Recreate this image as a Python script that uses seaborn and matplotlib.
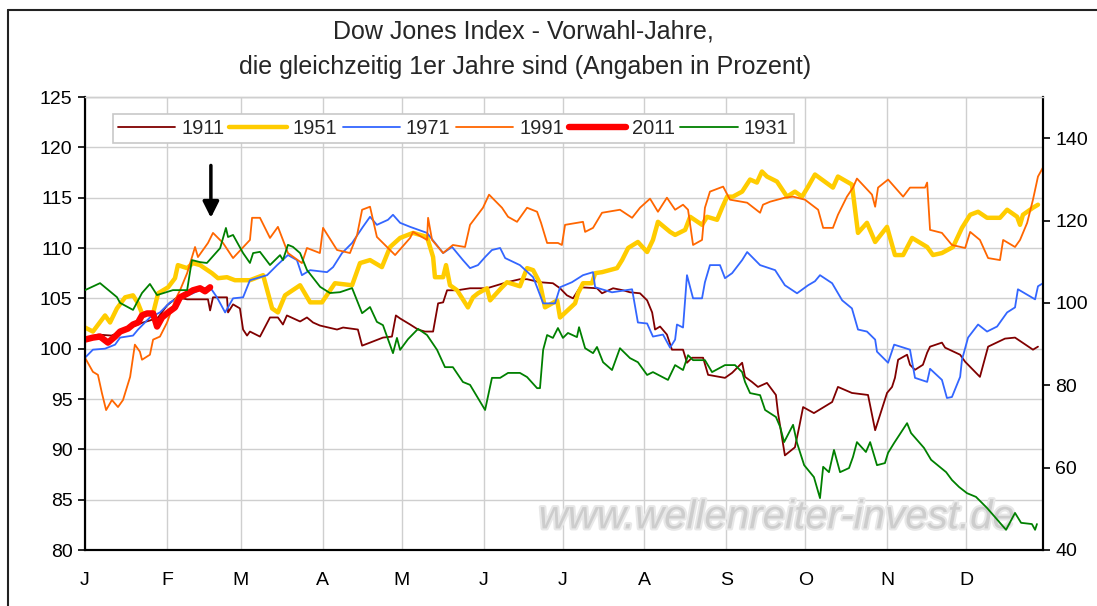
import matplotlib
matplotlib.use("Agg")
import matplotlib.pyplot as plt
from matplotlib.lines import Line2D
import matplotlib.patheffects as pe
import seaborn as sns
import pandas as pd

# ---------------- data ----------------
month_starts = [0, 31, 59, 90, 120, 151, 181, 212, 243, 273, 304, 334]
month_labels = ["J", "F", "M", "A", "M", "J", "J", "A", "S", "O", "N", "D"]

days_1911 = [0, 5, 10, 15, 19, 22.0, 24.6, 27.7, 31.1, 34.9, 38.7, 46.6, 47.4, 48.5, 53.8, 54.2, 56.1, 58.7,
             59.9, 61.4, 62.5, 66.3, 70.1, 73.1, 75.0, 76.5, 81.5, 84.1, 86.4, 89.0, 95.5, 97.8, 103.4, 105.0,
             108.0, 112.9, 116.3, 117.8, 119.4, 123.2, 126.2, 128.8, 131.9, 133.8, 135.7, 137.2, 141.0, 145.9,
             152.3, 159.9, 164.8, 167.5, 172.4, 177.3, 180.0, 182.6, 184.9, 187.6, 194.0, 195.9, 200.1, 203.9,
             206.5, 210.3, 213.0, 214.9, 216.0, 217.9, 220.5, 222.4, 224.3, 226.6, 228.1, 230.0, 234.2, 236.1,
             242.5, 245.2, 249.0, 250.1, 252.7, 255.0, 258.4, 261.8, 262.6, 265.2, 269.0, 270.6, 272.1, 276.2,
             283.1, 285.3, 290.6, 296.7, 299.4, 303.9, 305.8, 306.9, 308.1, 311.5, 312.6, 314.5, 317.5, 319.1,
             320.2, 324.7, 325.9, 331.6, 333.5, 339.1, 342.2, 348.6, 352.4, 359.2, 361.1]
vals_1911 = [101.0, 101.4, 101.3, 101.8, 102.3, 102.6, 102.8, 103.1, 104.3, 105.1, 104.9, 104.9, 103.8, 105.1,
             105.1, 103.6, 104.4, 104.0, 101.9, 101.3, 101.7, 101.2, 103.1, 103.1, 102.4, 103.3, 102.7, 103.1,
             102.6, 102.3, 101.9, 102.1, 101.9, 100.3, 100.6, 101.1, 101.2, 103.3, 103.0, 102.4, 101.9, 101.7,
             101.7, 104.5, 104.6, 105.8, 105.8, 106.0, 106.0, 106.6, 106.9, 106.9, 106.6, 106.5, 106.0, 105.3,
             105.0, 106.1, 106.0, 105.5, 106.0, 105.8, 105.6, 105.5, 104.8, 103.6, 101.9, 102.2, 101.4, 99.9,
             99.9, 99.9, 98.6, 99.1, 99.1, 97.4, 97.1, 97.6, 98.6, 97.2, 96.7, 96.2, 96.6, 95.4, 93.6, 89.4,
             90.2, 92.2, 94.2, 93.6, 94.7, 96.2, 95.6, 95.4, 91.9, 95.6, 96.2, 97.1, 98.9, 99.4, 98.4, 97.9,
             98.4, 99.6, 100.2, 100.6, 100.1, 99.4, 98.7, 97.2, 100.2, 101.0, 101.1, 99.9, 100.2]

days_1951 = [0, 3.0, 7.6, 9.5, 12.1, 15.2, 18.2, 20.1, 21.6, 25.8, 27.7, 31.5, 34.1, 35.2, 38.7, 40.9, 43.6,
             48.1, 50.4, 53.8, 56.8, 62.5, 67.5, 70.9, 73.1, 75.8, 81.5, 85.3, 89.8, 94.7, 101.2, 104.2, 108.0,
             112.5, 115.6, 119.4, 124.3, 129.6, 131.9, 132.6, 135.7, 136.8, 138.3, 141.0, 145.1, 147.0, 148.9,
             152.3, 153.5, 158.0, 159.9, 164.8, 167.5, 169.8, 172.4, 174.3, 177.0, 178.9, 180.0, 185.7, 186.8,
             188.7, 192.1, 193.3, 195.9, 201.6, 203.5, 205.8, 209.5, 213.0, 215.2, 217.1, 221.7, 223.6, 227.4,
             229.3, 233.8, 235.7, 239.5, 241.4, 243.3, 245.5, 249.0, 252.0, 254.6, 256.5, 258.4, 262.2, 266.0,
             269.0, 271.7, 274.0, 276.6, 283.4, 285.3, 290.6, 292.9, 296.3, 299.4, 303.9, 306.9, 310.0, 313.4,
             319.1, 321.3, 324.7, 328.9, 332.3, 335.4, 338.4, 341.8, 346.7, 349.4, 353.2, 354.3, 355.4, 359.2,
             361.1]
vals_1951 = [102.1, 101.7, 103.3, 102.6, 104.0, 105.1, 105.3, 104.5, 103.5, 103.5, 105.5, 106.1, 107.0, 108.3,
             108.0, 108.5, 108.3, 107.5, 107.0, 107.1, 106.8, 106.8, 107.3, 104.0, 103.6, 105.3, 106.3, 104.6,
             104.6, 106.5, 106.3, 108.5, 108.8, 108.1, 110.1, 111.0, 111.5, 111.1, 109.1, 107.1, 107.1, 108.3,
             106.3, 105.8, 104.1, 105.1, 105.5, 106.0, 104.8, 106.1, 106.6, 106.2, 108.0, 107.8, 106.5, 104.1,
             104.5, 104.8, 103.1, 104.5, 105.5, 106.5, 106.5, 107.5, 107.6, 108.0, 108.8, 110.0, 110.6, 109.6,
             110.8, 112.6, 111.6, 111.3, 111.8, 113.1, 112.3, 113.1, 112.8, 114.0, 115.1, 115.1, 115.6, 116.8,
             116.5, 117.6, 117.1, 116.6, 115.1, 115.6, 115.1, 116.1, 117.3, 116.0, 117.1, 116.3, 111.5, 112.5,
             110.6, 112.1, 109.3, 109.3, 111.0, 110.1, 109.3, 109.5, 110.1, 112.0, 113.3, 113.6, 113.0, 113.0,
             113.8, 113.1, 112.3, 113.3, 114.0, 114.3]

days_1971 = [0, 3.0, 7.6, 11.4, 13.3, 18.2, 20.1, 24.6, 28.4, 32.2, 36.0, 40.9, 44.7, 47.4, 50.0, 53.1, 56.1,
             59.9, 62.5, 69.0, 72.8, 76.9, 80.3, 82.2, 85.3, 91.7, 94.0, 97.4, 101.2, 105.3, 108.0, 110.6, 114.8,
             116.7, 119.4, 123.2, 129.6, 135.7, 139.1, 143.2, 145.9, 148.9, 151.6, 154.2, 157.3, 159.2, 164.8,
             169.8, 171.3, 173.6, 178.1, 180.0, 184.5, 188.7, 192.5, 193.3, 199.7, 207.3, 209.5, 213.0, 215.2,
             219.0, 221.7, 223.6, 224.3, 226.6, 228.1, 230.4, 233.8, 234.9, 236.8, 240.6, 242.5, 245.2, 249.0,
             250.9, 255.8, 261.5, 265.2, 269.8, 274.0, 276.6, 278.5, 283.1, 286.9, 290.6, 292.9, 296.3, 299.4,
             300.1, 304.3, 306.6, 312.6, 314.5, 319.1, 320.2, 324.7, 326.6, 328.5, 331.6, 332.3, 334.6, 338.4,
             341.8, 345.6, 349.4, 352.4, 353.5, 360.0, 361.1, 363.0]
vals_1971 = [99.1, 99.9, 100.0, 100.4, 101.1, 101.3, 101.9, 103.1, 103.6, 104.6, 105.1, 105.5, 106.0, 106.1,
             105.1, 103.6, 105.0, 105.1, 106.8, 107.3, 108.3, 109.3, 108.8, 107.3, 107.8, 107.6, 108.1, 109.5,
             110.5, 112.1, 113.1, 112.3, 112.8, 113.3, 112.5, 112.1, 111.5, 109.5, 110.1, 108.8, 108.0, 108.3,
             109.1, 109.8, 110.0, 109.0, 108.3, 107.1, 106.1, 104.5, 104.5, 106.1, 106.6, 107.3, 107.6, 106.1,
             105.6, 105.9, 102.6, 102.5, 101.2, 101.4, 100.1, 100.9, 102.4, 102.1, 107.3, 105.0, 105.0, 106.6,
             108.3, 108.3, 107.0, 107.5, 108.8, 109.6, 108.3, 107.8, 106.3, 105.5, 106.3, 106.7, 107.3, 106.5,
             104.8, 104.0, 101.9, 101.7, 100.9, 99.7, 98.6, 100.4, 99.9, 97.1, 96.7, 98.0, 96.9, 95.1, 95.2,
             97.2, 98.9, 101.1, 102.4, 101.7, 102.2, 103.6, 104.1, 105.9, 104.9, 106.2, 106.5]

days_1991 = [0, 3.0, 4.9, 6.4, 8.0, 10.2, 12.5, 14.4, 17.1, 18.9, 20.8, 21.6, 24.6, 25.8, 28.4, 31.1, 34.1,
             36.0, 38.7, 41.7, 42.8, 46.6, 48.5, 52.3, 56.1, 62.5, 63.3, 66.3, 70.1, 73.1, 76.9, 82.2, 84.1,
             89.0, 90.2, 95.5, 100.4, 103.1, 105.0, 108.0, 110.6, 117.5, 123.2, 124.3, 129.6, 130.0, 131.5,
             135.7, 139.4, 144.0, 145.9, 150.8, 153.1, 158.0, 160.3, 163.7, 167.5, 171.3, 172.8, 175.1, 179.2,
             180.7, 181.9, 188.7, 189.5, 192.5, 195.9, 202.7, 207.3, 210.3, 214.1, 217.1, 220.5, 223.6, 226.6,
             228.5, 230.4, 233.8, 234.9, 236.8, 241.8, 244.4, 250.9, 255.8, 256.9, 259.6, 265.2, 268.3, 272.8,
             277.8, 279.7, 283.4, 285.3, 288.7, 291.0, 292.5, 298.2, 299.4, 300.5, 304.3, 310.0, 312.6, 318.3,
             319.1, 320.2, 324.7, 328.5, 333.5, 335.4, 339.1, 342.2, 346.7, 347.9, 352.4, 354.3, 357.0, 359.2,
             361.1, 363.0]
vals_1991 = [99.1, 97.7, 97.4, 95.6, 93.9, 94.9, 94.2, 94.9, 97.2, 100.4, 99.7, 98.9, 99.4, 100.9, 101.2,
             102.6, 104.8, 105.8, 107.5, 110.1, 109.1, 110.5, 111.5, 110.5, 109.0, 110.8, 113.0, 113.0, 111.0,
             112.1, 109.5, 108.5, 110.0, 109.5, 112.0, 109.8, 109.5, 111.3, 113.8, 114.1, 111.1, 109.3, 111.0,
             111.6, 110.8, 113.0, 110.8, 109.5, 110.3, 110.1, 112.3, 114.0, 115.3, 114.0, 113.1, 112.6, 114.0,
             113.6, 112.5, 110.5, 110.5, 110.3, 112.3, 112.6, 111.6, 112.0, 113.5, 113.8, 113.0, 114.0, 114.9,
             113.6, 115.0, 113.8, 114.3, 113.8, 110.3, 110.8, 114.0, 115.6, 116.1, 114.8, 114.5, 113.5, 114.3,
             114.6, 115.0, 115.1, 114.8, 113.8, 112.0, 112.0, 113.3, 115.1, 116.0, 116.9, 115.3, 114.1, 116.0,
             116.8, 115.1, 116.0, 116.0, 116.5, 111.8, 111.5, 110.3, 110.0, 111.6, 110.8, 109.0, 108.8, 110.8,
             110.1, 110.8, 112.5, 114.8, 117.1, 118.0]

days_2011 = [0, 3.0, 5.7, 8.7, 11.4, 13.3, 16.3, 18.2, 20.1, 21.6, 23.5, 25.8, 27.3, 29.2, 31.5, 34.1, 36.0,
             39.0, 40.9, 43.6, 45.5, 47.4]
vals_2011 = [100.9, 101.1, 101.2, 100.6, 101.2, 101.7, 102.0, 102.4, 102.6, 103.3, 103.5, 103.5, 102.2, 103.1,
             103.6, 104.1, 105.1, 105.5, 105.8, 106.0, 105.7, 106.1]

days_1931 = [0, 5.7, 12.1, 13.3, 18.2, 21.6, 24.6, 27.3, 33.3, 38.7, 40.5, 43.6, 46.2, 51.2, 53.4, 54.2, 56.1,
             59.9, 62.5, 63.7, 66.3, 70.1, 73.9, 75.0, 76.9, 78.8, 81.5, 84.1, 89.1, 92.8, 96.6, 101.2, 105.0,
             108.0, 110.6, 112.9, 116.7, 118.2, 119.4, 122.4, 126.2, 129.6, 133.4, 136.4, 139.4, 143.2, 145.9,
             151.6, 154.2, 157.3, 160.3, 164.8, 167.5, 171.3, 172.4, 173.6, 175.1, 177.3, 179.2, 181.1, 183.0,
             186.4, 187.2, 189.5, 192.5, 194.0, 196.3, 199.7, 202.7, 206.5, 209.5, 213.0, 215.2, 220.9, 223.6,
             226.6, 228.5, 230.4, 234.9, 237.6, 242.5, 246.3, 249.0, 250.1, 252.0, 255.8, 257.7, 261.8, 263.4,
             264.9, 268.3, 269.8, 272.5, 276.2, 278.5, 279.7, 281.9, 283.8, 286.1, 289.5, 291.0, 292.5, 295.9,
             297.5, 300.1, 303.1, 304.3, 306.6, 311.5, 313.0, 317.9, 320.6, 324.4, 326.3, 328.5, 331.2, 334.2,
             337.6, 341.8, 344.8, 349.0, 352.4, 354.7, 358.8, 360.0, 360.7]
vals_1931 = [103.1, 104.8, 101.4, 100.0, 98.3, 102.4, 104.6, 101.9, 103.1, 103.1, 110.4, 109.9, 109.7, 113.3,
             118.2, 116.0, 116.5, 112.1, 109.7, 112.1, 112.4, 109.2, 111.6, 110.4, 114.1, 113.6, 112.1, 108.0,
             103.9, 102.4, 102.6, 103.6, 97.5, 99.0, 95.4, 94.6, 87.8, 91.5, 88.6, 91.2, 93.7, 92.2, 88.6, 84.4,
             84.4, 80.8, 80.1, 74.0, 81.8, 81.8, 83.0, 83.0, 82.0, 79.3, 79.3, 88.6, 92.2, 91.5, 93.9, 91.5,
             92.7, 91.7, 94.1, 89.0, 87.8, 89.3, 85.6, 83.7, 89.0, 86.6, 85.6, 82.5, 83.2, 81.3, 84.9, 83.7,
             87.3, 86.1, 86.1, 83.2, 84.9, 84.9, 83.2, 80.8, 78.1, 77.6, 74.0, 72.3, 69.9, 66.2, 70.4, 66.0,
             60.6, 57.7, 52.6, 60.2, 58.9, 64.3, 58.9, 59.9, 62.6, 66.2, 63.8, 66.2, 60.6, 61.1, 63.6, 66.0,
             70.8, 68.4, 64.8, 61.9, 59.9, 58.9, 57.0, 55.3, 53.8, 52.9, 50.2, 48.0, 44.9, 49.0, 46.6, 46.3,
             44.9, 46.3]

left_series = [
    ("1911", days_1911, vals_1911, "#800000", 1.3),
    ("1951", days_1951, vals_1951, "#FFCC00", 3.2),
    ("1971", days_1971, vals_1971, "#3366FF", 1.3),
    ("1991", days_1991, vals_1991, "#FF6600", 1.3),
    ("2011", days_2011, vals_2011, "#FF0000", 4.6),
]
right_series = [("1931", days_1931, vals_1931, "#008000", 1.3)]

left_ticks = [80, 85, 90, 95, 100, 105, 110, 115, 120, 125]
right_ticks = [40, 60, 80, 100, 120, 140]

title_line1 = "Dow Jones Index - Vorwahl-Jahre,"
title_line2 = "die gleichzeitig 1er Jahre sind (Angaben in Prozent)"
watermark = "www.wellenreiter-invest.de"

# ---------------- style ----------------
sns.set_style("white")
plt.rcParams["font.family"] = ["Liberation Sans", "DejaVu Sans"]

fig = plt.figure(figsize=(10.97, 6.06), dpi=100)
ax = fig.add_axes([85 / 1097, 1 - 550 / 606, (1043 - 85) / 1097, (550 - 97) / 606])
ax2 = ax.twinx()

grid_c = "#cfcfcf"

for name, d, v, c, lw in left_series:
    df = pd.DataFrame({"day": d, "val": v})
    sns.lineplot(data=df, x="day", y="val", ax=ax, color=c, linewidth=lw, sort=False,
                 estimator=None, legend=False, zorder=3, solid_joinstyle="round")
for name, d, v, c, lw in right_series:
    df = pd.DataFrame({"day": d, "val": v})
    sns.lineplot(data=df, x="day", y="val", ax=ax2, color=c, linewidth=lw, sort=False,
                 estimator=None, legend=False, zorder=3)

ax.set_xlim(0, 363)
ax.set_ylim(80, 125)
ax2.set_ylim(40, 150)
ax.set_xticks(month_starts)
ax.set_xticklabels(month_labels)
ax.set_yticks(left_ticks)
ax.set_yticklabels([str(t) for t in left_ticks])
ax2.set_yticks(right_ticks)
ax2.set_yticklabels([str(t) for t in right_ticks])
ax.set_xlabel("")
ax.set_ylabel("")
ax2.set_ylabel("")

ax.grid(True, color=grid_c, linewidth=1.0)
ax.set_axisbelow(True)
ax2.grid(False)

for a in (ax, ax2):
    a.spines["top"].set_color(grid_c)
    a.spines["top"].set_linewidth(1.0)
    for s in ("left", "bottom", "right"):
        a.spines[s].set_color("black")
        a.spines[s].set_linewidth(1.5)

ax.tick_params(axis="x", direction="out", length=6, width=1.2, pad=10, labelsize=14, colors="black")
ax.tick_params(axis="y", direction="out", length=5, width=1.2, pad=4, labelsize=14, colors="black", left=True)
ax2.tick_params(axis="y", direction="out", length=5, width=1.2, pad=4, labelsize=14, colors="black", right=True)

# watermark
ax.text(0.722, 0.072, watermark, transform=ax.transAxes, ha="center", va="center",
        fontsize=29, style="italic", color="#cdcdcd", zorder=1,
        path_effects=[pe.withStroke(linewidth=3, foreground="#e8e8e8")])

# arrow
ax2.annotate("", xy=(47.7, 40 + (113.0 - 80) * 110 / 45), xytext=(47.7, 40 + (118.2 - 80) * 110 / 45),
             arrowprops=dict(arrowstyle="-|>", color="black", lw=2.5, mutation_scale=24,
                             shrinkA=0, shrinkB=0))

# legend
handles = [Line2D([0], [0], color=c, lw=lw) for _, _, _, c, lw in left_series + right_series]
labels = [n for n, _, _, _, _ in left_series + right_series]
leg = ax2.legend(handles, labels, ncol=6, loc="upper left", bbox_to_anchor=(0.029, 0.962),
                 fontsize=14.5, handlelength=2.85, handletextpad=0.3, columnspacing=0.25,
                 frameon=True, fancybox=False, borderpad=0.25, borderaxespad=0)
leg.get_frame().set_edgecolor("#c8c8c8")
leg.get_frame().set_linewidth(1.2)
leg.get_frame().set_facecolor("white")
leg.get_frame().set_alpha(1)
leg.set_zorder(10)

# titles
fig.text(523 / 1097, 1 - 32 / 606, title_line1, ha="center", va="center", fontsize=18)
fig.text(525 / 1097, 1 - 67 / 606, title_line2, ha="center", va="center", fontsize=18)

# outer frame (left and top edges)
fig.add_artist(Line2D([8 / 1097, 8 / 1097], [0, 1 - 10 / 606], transform=fig.transFigure,
                      color="#222222", lw=1.5))
fig.add_artist(Line2D([8 / 1097, 1], [1 - 10 / 606, 1 - 10 / 606], transform=fig.transFigure,
                      color="#222222", lw=1.5))

fig.savefig("out.png", dpi=100)
